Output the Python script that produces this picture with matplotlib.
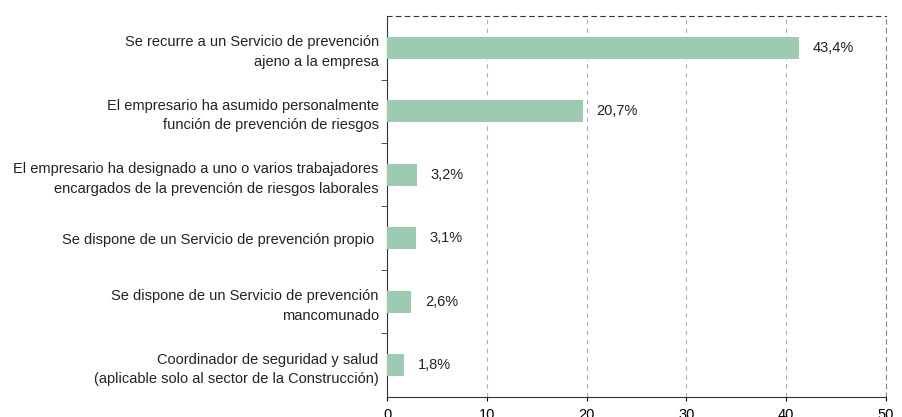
import matplotlib.pyplot as plt
import numpy as np

plt.rcParams['font.family'] = ['Liberation Sans', 'DejaVu Sans']

categorias = [
    'Se recurre a un Servicio de prevención\najeno a la empresa',
    'El empresario ha asumido personalmente\nfunción de prevención de riesgos',
    'El empresario ha designado a uno o varios trabajadores\nencargados de la prevención de riesgos laborales',
    'Se dispone de un Servicio de prevención propio ',
    'Se dispone de un Servicio de prevención\nmancomunado',
    'Coordinador de seguridad y salud\n(aplicable solo al sector de la Construcción)',
]
# bar lengths (the printed labels are slightly larger)
valores = [41.3, 19.6, 3.0, 2.9, 2.45, 1.7]
etiquetas = ['43,4%', '20,7%', '3,2%', '3,1%', '2,6%', '1,8%']
xticks = [0, 10, 20, 30, 40, 50]

fig = plt.figure(figsize=(9.03, 4.17), dpi=100)
ax = fig.add_axes([0.4286, 0.048, 0.5525, 0.9136])

y = np.arange(len(valores))
ax.barh(y, valores, height=0.35, color='#9ccbb1', zorder=3)

for yi, v, t in zip(y, valores, etiquetas):
    ax.annotate(t, (v, yi), xytext=(10, 0), textcoords='offset points',
                va='center', ha='left', fontsize=10.5, color='#222222')

ax.set_ylim(len(valores) - 0.5, -0.5)
ax.set_xlim(0, 50)
ax.set_xticks(xticks)
ax.set_xticklabels([str(x) for x in xticks], fontsize=10.5)
ax.set_yticks(y)
ax.set_yticklabels(categorias, fontsize=10.5, color='#222222', linespacing=1.5)
ax.set_yticks(np.arange(len(valores) - 1) + 0.5, minor=True)
ax.tick_params(axis='y', which='major', length=0, pad=6)
ax.tick_params(axis='y', which='minor', length=4, direction='out', color='#333333')
ax.tick_params(axis='x', length=3, direction='out', pad=5)

ax.xaxis.grid(True, linestyle=(0, (4, 4)), color='#b0b0b0', linewidth=0.8, zorder=0)

ax.spines['left'].set_color('#333333')
ax.spines['bottom'].set_color('#333333')
ax.spines['top'].set_linestyle((0, (4, 4)))
ax.spines['top'].set_color('#333333')
ax.spines['top'].set_linewidth(0.8)
ax.spines['right'].set_linestyle((0, (4, 4)))
ax.spines['right'].set_color('#888888')
ax.spines['right'].set_linewidth(0.8)

plt.savefig('out.png', dpi=100)
